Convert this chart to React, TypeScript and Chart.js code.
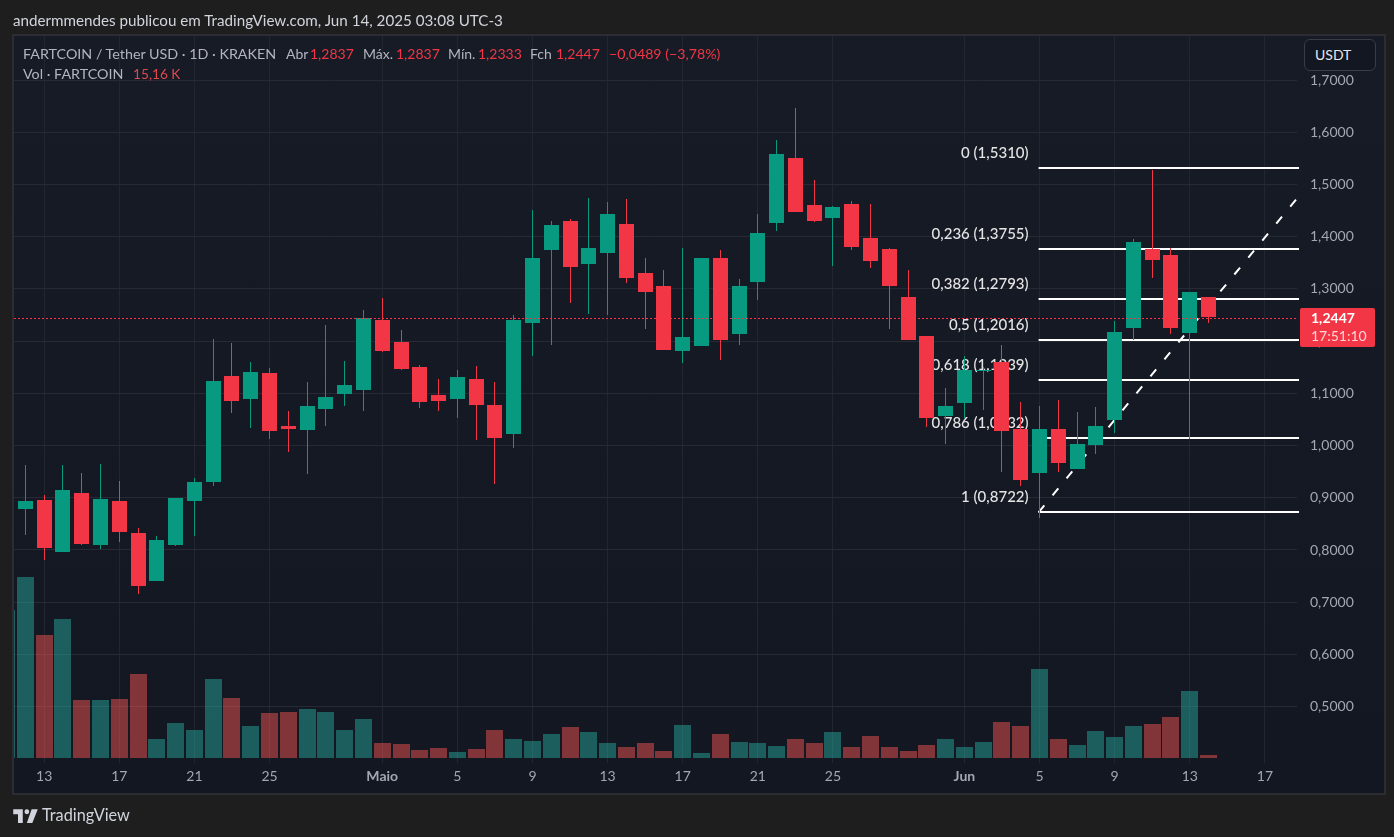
import React, { useEffect, useRef } from "react";
import { Chart, registerables } from "chart.js";

Chart.register(...registerables);

const FONT = "Lato, 'Open Sans', sans-serif";

const sessionDates = [
  "11/04","12/04","13/04","14/04","15/04","16/04","17/04","18/04","19/04","20/04","21/04","22/04","23/04","24/04","25/04","26/04","27/04","28/04","29/04","30/04",
  "01/05","02/05","03/05","04/05","05/05","06/05","07/05","08/05","09/05","10/05","11/05","12/05","13/05","14/05","15/05","16/05","17/05","18/05","19/05","20/05",
  "21/05","22/05","23/05","24/05","25/05","26/05","27/05","28/05","29/05","30/05","31/05","01/06","02/06","03/06","04/06","05/06","06/06","07/06","08/06","09/06",
  "10/06","11/06","12/06","13/06","14/06",
];

const opens = [null,0.877,0.895,0.795,0.908,0.808,0.893,0.831,0.739,0.808,0.893,0.929,1.132,1.088,1.138,1.036,1.029,1.069,1.098,1.105,
  1.240,1.197,1.150,1.096,1.088,1.127,1.077,1.021,1.234,1.374,1.429,1.347,1.368,1.424,1.330,1.305,1.180,1.190,1.358,1.213,
  1.312,1.426,1.550,1.460,1.435,1.462,1.397,1.376,1.284,1.209,1.056,1.081,1.142,1.159,1.031,0.946,1.031,0.954,1.000,1.048,
  1.224,1.376,1.364,1.215,1.2837];
const closes = [null,0.893,0.803,0.914,0.810,0.896,0.833,0.730,0.818,0.898,0.929,1.123,1.084,1.140,1.027,1.031,1.075,1.092,1.115,1.243,
  1.180,1.146,1.082,1.084,1.130,1.077,1.013,1.240,1.358,1.422,1.341,1.378,1.443,1.320,1.293,1.182,1.207,1.358,1.201,1.305,
  1.406,1.558,1.447,1.429,1.456,1.380,1.353,1.305,1.201,1.052,1.075,1.144,1.144,1.027,0.933,1.031,0.965,1.002,1.036,1.217,
  1.389,1.355,1.224,1.293,1.2447];
const highs = [null,0.962,0.904,0.962,0.946,0.964,0.931,0.841,0.826,0.898,0.937,1.203,1.196,1.159,1.148,1.065,1.121,1.230,1.161,1.259,
  1.282,1.220,1.153,1.127,1.144,1.151,1.121,1.249,1.450,1.429,1.433,1.473,1.466,1.472,1.358,1.335,1.378,1.358,1.374,1.318,
  1.443,1.585,1.646,1.508,1.458,1.468,1.462,1.378,1.335,1.209,1.109,1.171,1.150,1.192,1.082,1.075,1.086,1.063,1.073,1.238,
  1.395,1.527,1.378,1.293,1.2837];
const lows = [null,0.827,0.781,0.795,0.808,0.801,0.814,0.714,0.739,0.806,0.826,0.921,1.061,1.033,1.012,0.987,0.944,1.036,1.075,1.065,
  1.178,1.144,1.071,1.065,1.052,1.010,0.925,0.994,1.171,1.192,1.272,1.251,1.249,1.311,1.222,1.182,1.157,1.190,1.163,1.192,
  1.278,1.410,1.447,1.427,1.343,1.374,1.339,1.222,1.201,1.035,1.002,1.052,1.067,0.948,0.921,0.860,0.948,0.954,0.983,1.023,
  1.201,1.320,1.213,1.012,1.2333];
const volumesK = [740,905,615,695,290,290,295,420,95,175,140,395,300,160,225,230,245,230,140,195,
  75,70,40,50,30,45,140,95,85,120,155,130,75,55,75,35,165,25,120,80,
  75,60,95,75,130,55,110,55,35,65,95,55,80,180,160,445,95,65,135,105,
  160,170,205,335,15.16];

const tickIndexes = [2,6,10,14,20,24,28,32,36,40,44,51,55,59,63,67];
const tickLabels = ["13","17","21","25","Maio","5","9","13","17","21","25","Jun","5","9","13","17"];
const priceTicks = [0.5,0.6,0.7,0.8,0.9,1.0,1.1,1.2,1.3,1.4,1.5,1.6,1.7];

const fibRatios = ["0","0,236","0,382","0,5","0,618","0,786","1"];
const fibPrices = [1.531,1.3755,1.2793,1.2016,1.1239,1.0132,0.8722];
const trendPrices = [0.8722,1.4735];
const lastPrice = 1.2447;
const countdown = "17:51:10";

const X_MIN = 0.392;
const X_MAX = 68.71;
const FIB_START = 54.95;

const UP = "#089981";
const DOWN = "#F23645";
const VOL_UP = "rgba(38,166,154,0.5)";
const VOL_DOWN = "rgba(239,83,80,0.5)";

const fmt = (v: number) => v.toFixed(4).replace(".", ",");

const isUp = (i: number) => (closes[i] ?? 1) >= (opens[i] ?? 0);

const candleColors = sessionDates.map((_, i) => (isUp(i) ? UP : DOWN));
const volumeColors = sessionDates.map((_, i) => (isUp(i) ? VOL_UP : VOL_DOWN));

const pricePairs = (a: (number | null)[], b: (number | null)[]) =>
  sessionDates.map((_, i) => ({ x: i, y: a[i] === null ? null : [a[i], b[i]] }));

const snapPlugin = {
  id: "snap",
  beforeDatasetsDraw(chart: any) {
    chart.data.datasets.forEach((ds: any, idx: number) => {
      const meta = chart.getDatasetMeta(idx);
      if (meta.type === "bar") {
        meta.data.forEach((el: any) => {
          el.x = Math.floor(el.x) + 0.5;
          el.y = Math.floor(el.y + 0.1);
          el.base = Math.floor(el.base + 0.1);
        });
      } else if (ds.snapLine !== undefined) {
        const y = chart.scales.y.getPixelForValue(ds.data[0].y);
        meta.data.forEach((el: any) => {
          el.y = Math.floor(y) + ds.snapLine;
        });
      }
    });
  },
};

const fibLabelPlugin = {
  id: "fibLabels",
  beforeDatasetsDraw(chart: any) {
    const { ctx, scales } = chart;
    ctx.save();
    ctx.font = `500 15px ${FONT}`;
    ctx.fillStyle = "#e4e4e4";
    ctx.textAlign = "right";
    ctx.textBaseline = "middle";
    const x = scales.x.getPixelForValue(FIB_START) - 10;
    fibPrices.forEach((p, i) => {
      const y = Math.floor(scales.y.getPixelForValue(p)) - 15;
      ctx.fillText(`${fibRatios[i]} (${fmt(p)})`, x, y);
    });
    ctx.restore();
  },
};

const priceTagPlugin = {
  id: "priceTag",
  afterDraw(chart: any) {
    const { ctx, scales } = chart;
    const y = Math.round(scales.y.getPixelForValue(lastPrice));
    ctx.save();
    ctx.fillStyle = DOWN;
    ctx.beginPath();
    ctx.roundRect(1300, y - 10, 75, 39, 2);
    ctx.fill();
    ctx.textBaseline = "middle";
    ctx.textAlign = "left";
    ctx.font = `700 14px ${FONT}`;
    ctx.fillStyle = "#ffffff";
    ctx.fillText(fmt(lastPrice), 1311, y + 0);
    ctx.font = `400 14px ${FONT}`;
    ctx.fillStyle = "#fbd5d9";
    ctx.fillText(countdown, 1311, y + 18);
    ctx.restore();
  },
};

const legendItems: [number, string, string, number][] = [
  [23, "FARTCOIN / Tether USD · 1D · KRAKEN", "#b2b5be", 14.3],
  [286, "Abr", "#b2b5be", 14],
  [310, "1,2837", DOWN, 14],
  [363, "Máx.", "#b2b5be", 14],
  [396, "1,2837", DOWN, 14],
  [448, "Mín.", "#b2b5be", 14],
  [478, "1,2333", DOWN, 14],
  [530, "Fch", "#b2b5be", 14],
  [556, "1,2447", DOWN, 14],
  [609, "−0,0489 (−3,78%)", DOWN, 14.2],
];

const abs = (left: number, top: number, color: string, size = 14): React.CSSProperties => ({
  position: "absolute",
  left,
  top,
  color,
  fontFamily: FONT,
  fontSize: size,
  lineHeight: "18px",
  whiteSpace: "nowrap",
});

export default function App() {
  const ref = useRef<HTMLCanvasElement>(null);

  useEffect(() => {
    const chart = new Chart(ref.current as HTMLCanvasElement, {
      type: "bar",
      data: {
        labels: sessionDates,
        datasets: [
          {
            label: "Vol",
            data: sessionDates.map((_, i) => ({ x: i, y: volumesK[i] })),
            backgroundColor: volumeColors,
            barThickness: 17,
            inflateAmount: 0,
            grouped: false,
            yAxisID: "vol",
            order: 6,
          },
          ...fibPrices.map((p) => ({
            type: "line",
            label: `Fib ${p}`,
            data: [{ x: FIB_START, y: p }, { x: X_MAX + 0.2, y: p }],
            borderColor: "#ffffff",
            borderWidth: 2,
            pointRadius: 0,
            snapLine: 0,
            clip: { left: 0, top: 0, right: 2, bottom: 0 },
            order: 5,
          })),
          {
            type: "line",
            label: "Trend",
            data: [{ x: FIB_START, y: trendPrices[0] }, { x: X_MAX, y: trendPrices[1] }],
            borderColor: "#ffffff",
            borderWidth: 2,
            borderDash: [9, 13],
            pointRadius: 0,
            order: 5,
          },
          {
            label: "Wick",
            data: pricePairs(lows, highs),
            backgroundColor: candleColors,
            barThickness: 1,
            inflateAmount: 0,
            grouped: false,
            order: 3,
          },
          {
            label: "Body",
            data: pricePairs(opens, closes),
            backgroundColor: candleColors,
            barThickness: 15,
            inflateAmount: 0,
            grouped: false,
            order: 2,
          },
          {
            type: "line",
            label: "Last",
            data: [{ x: X_MIN, y: lastPrice }, { x: X_MAX, y: lastPrice }],
            borderColor: "#ff2f45",
            borderWidth: 1,
            borderDash: [2, 2],
            pointRadius: 0,
            snapLine: 1.5,
            order: 1,
          },
        ] as any,
      },
      options: {
        responsive: false,
        animation: false,
        devicePixelRatio: 1,
        layout: { padding: { left: 14, right: 10, top: 36, bottom: 44 } },
        plugins: { legend: { display: false }, tooltip: { enabled: false }, title: { display: false } },
        scales: {
          x: {
            type: "linear",
            min: X_MIN,
            max: X_MAX,
            offset: false,
            border: { display: false },
            grid: { color: "#222631", offset: false, drawTicks: false },
            afterBuildTicks: (s: any) => {
              s.ticks = tickIndexes.map((value) => ({ value }));
            },
            afterFit: (s: any) => {
              s.height = 30;
            },
            ticks: {
              autoSkip: false,
              maxRotation: 0,
              padding: 5,
              color: "#a4a7b0",
              font: (c: any) => ({
                family: FONT,
                size: 14,
                weight: /[A-Za-z]/.test(tickLabels[c.index] ?? "") ? "700" : "400",
              }),
              callback: (_v: any, i: number) => tickLabels[i],
            },
          },
          y: {
            position: "right",
            min: 0.392,
            max: 1.7845,
            border: { display: false },
            grid: { color: "#262a35", drawTicks: false },
            afterBuildTicks: (s: any) => {
              s.ticks = priceTicks.map((value) => ({ value }));
            },
            afterFit: (s: any) => {
              s.width = 87;
            },
            ticks: {
              padding: 13,
              color: "#a4a7b0",
              font: { family: FONT, size: 14 },
              callback: (v: any) => fmt(Number(v)),
            },
          },
          vol: {
            display: false,
            position: "right",
            min: -25,
            max: 3610,
          },
        },
      } as any,
      plugins: [snapPlugin, fibLabelPlugin, priceTagPlugin],
    } as any);
    return () => chart.destroy();
  }, []);

  return (
    <div style={{ position: "fixed", left: 0, top: 0, width: 1394, height: 837, background: "#1e1e1e", overflow: "hidden" }}>
      <div
        style={{
          position: "absolute",
          left: 12,
          top: 34,
          width: 1370,
          height: 757,
          border: "2px solid #2b2d33",
          background: "linear-gradient(180deg,#171b26 0%,#131722 100%)",
        }}
      />
      <canvas ref={ref} width={1394} height={837} style={{ position: "absolute", left: 0, top: 0, width: 1394, height: 837, display: "block" }} />
      <div style={abs(13, 11, "#d1d4dc", 15.2)}>andermmendes publicou em TradingView.com, Jun 14, 2025 03:08 UTC-3</div>
      {legendItems.map(([left, text, color, size], i) => (
        <div key={i} style={abs(left, 45, color, size)}>{text}</div>
      ))}
      <div style={abs(23, 65, "#b2b5be", 14.3)}>Vol · FARTCOIN</div>
      <div style={abs(133, 65, "#e0474f", 13.7)}>15,16 K</div>
      <div
        style={{
          position: "absolute",
          left: 1304,
          top: 39,
          width: 72,
          height: 32,
          boxSizing: "border-box",
          border: "1px solid #3a3d45",
          borderRadius: 6,
          background: "#131722",
          color: "#e6e7ea",
          fontFamily: FONT,
          fontSize: 14,
          lineHeight: "30px",
          paddingLeft: 10,
        }}
      >
        USDT
      </div>
      <svg style={{ position: "absolute", left: 13, top: 808 }} width="25" height="15" viewBox="0 0 36 22">
        <path fill="#d1d4dc" d="M14 2H0v7h7v13h7V2zM28 22h-8l7-20h9l-8 20zM20 9a3.5 3.5 0 1 0 0-7 3.5 3.5 0 0 0 0 7z" />
      </svg>
      <div style={abs(42, 806, "#d1d4dc", 16.3)}>TradingView</div>
    </div>
  );
}
